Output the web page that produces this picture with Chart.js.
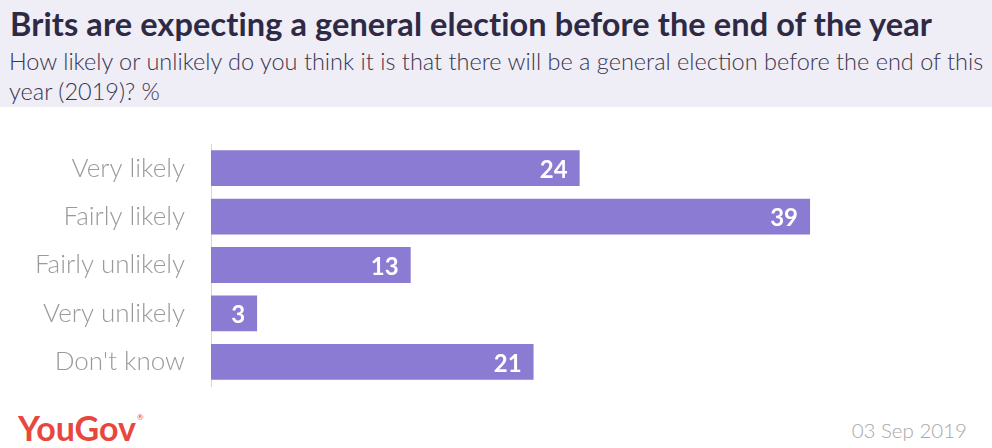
<!DOCTYPE html>
<html>
<head>
<meta charset="utf-8">
<script src="https://cdn.jsdelivr.net/npm/chart.js@4"></script>
<style>
  html, body { margin: 0; padding: 0; width: 992px; height: 448px; overflow: hidden; background: #ffffff; }
  #header { position: absolute; left: 0; top: 0; width: 992px; height: 107px; background: #efedf6; }
  #title { position: absolute; left: 10px; top: 4px; font-family: Lato, sans-serif; font-weight: 700; font-size: 32.5px; color: #2e2a45; white-space: nowrap; letter-spacing: 0.1px; }
  #subtitle { position: absolute; left: 9px; top: 46px; font-family: Lato, sans-serif; font-weight: 300; font-size: 23.5px; line-height: 30px; color: #3a3550; white-space: nowrap; }
  #c { position: absolute; left: 0; top: 140px; }
  #logo { position: absolute; left: 18px; top: 407px; font-family: Lato, sans-serif; font-weight: 700; font-size: 34px; color: #e8473e; letter-spacing: 0px; }
  #logo sup { font-size: 8px; font-weight: 400; vertical-align: top; position: relative; top: 5px; left: 1px; }
  #date { position: absolute; right: 25px; top: 418px; font-family: Lato, sans-serif; font-weight: 300; font-size: 20.5px; color: #a8a8a8; }
</style>
</head>
<body>
<div id="header">
  <div id="title">Brits are expecting a general election before the end of the year</div>
  <div id="subtitle">How likely or unlikely do you think it is that there will be a general election before the end of this<br>year (2019)? %</div>
</div>
<canvas id="c" width="992" height="250"></canvas>
<div id="logo">YouGov<sup>®</sup></div>
<div id="date">03 Sep 2019</div>
<script>
const categories = ["Very likely", "Fairly likely", "Fairly unlikely", "Very unlikely", "Don't know"];
const values = [24, 39, 13, 3, 21];
const barColor = "#8b7bd3";

const valueLabels = {
  id: 'valueLabels',
  afterDatasetsDraw(chart) {
    const ctx = chart.ctx;
    const meta = chart.getDatasetMeta(0);
    ctx.save();
    ctx.fillStyle = '#ffffff';
    ctx.font = '700 24px Lato, sans-serif';
    ctx.textAlign = 'right';
    ctx.textBaseline = 'middle';
    meta.data.forEach((bar, i) => {
      ctx.fillText(String(values[i]), bar.x - 12, bar.y + 2);
    });
    ctx.restore();
  }
};

new Chart(document.getElementById('c'), {
  type: 'bar',
  data: {
    labels: categories,
    datasets: [{
      data: values,
      backgroundColor: barColor,
      borderWidth: 0,
      categoryPercentage: 1,
      barPercentage: 0.74
    }]
  },
  options: {
    indexAxis: 'y',
    responsive: false,
    maintainAspectRatio: false,
    animation: false,
    devicePixelRatio: 1,
    layout: { padding: { top: 4, bottom: 4, left: 0, right: 13 } },
    plugins: { legend: { display: false }, tooltip: { enabled: false } },
    scales: {
      x: {
        display: false,
        min: 0,
        max: 50
      },
      y: {
        afterFit(scale) { scale.width = 211; scale.paddingTop = 0; scale.paddingBottom = 0; },
        grid: { display: false, drawTicks: false },
        border: { display: true, color: '#d6d6d6', width: 1 },
        ticks: {
          padding: 26,
          color: '#9a9a9a',
          font: { family: 'Lato, sans-serif', size: 26, weight: 300 }
        }
      }
    }
  },
  plugins: [valueLabels]
});
</script>
</body>
</html>
